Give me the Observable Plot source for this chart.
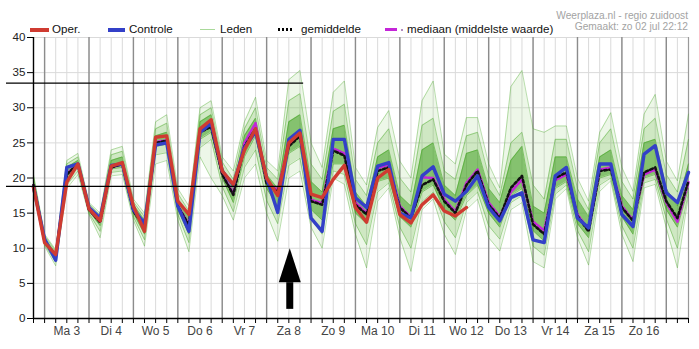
<!DOCTYPE html>
<html><head><meta charset="utf-8">
<script src="https://cdn.jsdelivr.net/npm/d3@7"></script>
<script src="https://cdn.jsdelivr.net/npm/@observablehq/plot@0.6"></script>
<style>
body{margin:0;background:#fff;}
#wrap{position:relative;width:699px;height:349px;font-family:"Liberation Sans",Arial,sans-serif;}
#legend{position:absolute;left:0;top:0;width:699px;height:37px;}
.t{position:absolute;top:22.3px;font-size:11.6px;line-height:14px;color:#111;white-space:nowrap;}
.sw{position:absolute;}
.cr{position:absolute;right:11px;font-size:10.2px;line-height:10.5px;color:#a3a3a3;white-space:nowrap;text-align:right;}
</style></head>
<body>
<div id="wrap">
<div id="chart"></div>
<div id="legend">
  <div class="sw" style="left:30px;top:28px;width:19px;height:3.5px;background:#cf3b31"></div>
  <div class="t" style="left:52px">Oper.</div>
  <div class="sw" style="left:108px;top:28px;width:17px;height:3.5px;background:#3340c8"></div>
  <div class="t" style="left:129px">Controle</div>
  <div class="sw" style="left:200px;top:29px;width:15px;height:1px;background:#a9d99a"></div>
  <div class="t" style="left:220px">Leden</div>
  <div class="sw" style="left:278px;top:28px;width:15px;height:3px;background:repeating-linear-gradient(90deg,#000 0 2.5px,transparent 2.5px 4px)"></div>
  <div class="t" style="left:301px">gemiddelde</div>
  <div class="sw" style="left:385px;top:28px;width:12px;height:3px;background:#c425d8"></div>
  <div class="sw" style="left:401px;top:29px;width:2px;height:2px;background:#b48cc0"></div>
  <div class="t" style="left:407px">mediaan (middelste waarde)</div>
  <div class="cr" style="top:11px">Weerplaza.nl - regio zuidoost</div>
  <div class="cr" style="top:22px">Gemaakt: zo 02 jul 22:12</div>
</div>
</div>
<script>
// ---- data (6-hourly, starting Sun 2 Jul 18:00) ----
const dayLabels = ["Ma 3","Di 4","Wo 5","Do 6","Vr 7","Za 8","Zo 9","Ma 10","Di 11","Wo 12","Do 13","Vr 14","Za 15","Zo 16"];
const yTicks = [0,5,10,15,20,25,30,35,40];

const oper = [18.7,10.8,9.1,19.4,22,15.6,13.9,21.7,22.2,16,12.4,25.8,26,16.7,14.8,27,28.3,21,19.1,24,27,20,17.5,25,26.4,17.7,17.2,19.8,21.8,15.8,13.7,20,21.2,14.8,13.6,16.2,17.6,15.3,14.6,15.8];

const controle = [18.7,11.3,8.3,21.5,22,15.8,14.3,21.8,22,15.5,13.5,24.7,25,16,12.4,26.5,27.8,21,19,24.3,26.6,20,15.1,25.5,26.8,14.3,12.4,25.5,25.5,17.2,15.8,21.7,22.2,15,14.3,20.3,21.6,17.7,16.7,18.1,20.3,15.8,13.9,17.2,17.9,11.2,10.8,20.3,21.5,14.3,12.9,22,22,14.8,13.1,23.4,24.6,17.9,16.5,20.8];

const gemiddelde = [19,11,8.8,20.5,22,15.5,13.7,21.5,22,15.3,13,25,25.3,16,13.3,26.5,27.3,20.5,17.6,24.5,27,19.2,18,24.5,26,16.7,16.2,23.9,23.2,16.2,14.8,21,21.5,15.8,14.3,19,19.8,16.7,15,19,21,16.2,14.3,18.6,20.3,13.4,12,20,20.8,14.6,12.4,21,21.2,15.8,13.9,20.8,21.5,16.7,14.3,19.6];

const mediaan = [19,11,8.9,20.6,22,15.5,13.8,21.5,22,15.4,13.1,25.1,25.4,16,13.4,26.6,27.5,20.6,17.8,25,27.8,19.4,18.3,24.8,26.2,16.9,16.4,24.2,23.5,16.5,15,21.4,21.9,16,14.4,20.1,20,17,15.2,19.3,21.2,16.5,14.5,18,19.8,13.8,12.5,19.7,20.5,14.8,12.6,21.2,21.5,16,14,20.5,21.2,16.5,13.8,19.4];

// ensemble members (Leden): outer, second and core tiers
const ledenMax = [20.5,12,9.8,22.5,23.5,16.5,15,24,24.5,17,15,28,29,18.5,16,30,31,23,21,28,31.5,22.5,21,34,35.3,25,21.5,32.2,33.8,21.5,19,27.2,29.6,22.4,20,31,33.8,23.4,22,28.6,28.6,22,18.6,33,35.3,27,26.5,27.4,27.4,20,16.7,26.5,29.3,21.5,18.1,29.1,31.9,22.4,19.6,29.1];
const ledenUp = [20.2,11.8,9.6,22,23,16.3,14.7,23.3,23.8,16.6,14.5,27,27.8,17.8,15.3,29,30,22.3,19.8,27,30,21.5,19.8,31,32,22,19.8,29.5,30.5,19.8,17.5,25,27,20,18,27.5,28.5,21,19.8,26,26.5,20.3,17.5,25,26.5,19,17,25.5,25.5,18.5,15.5,25,27,19.5,17,27,28.5,20.5,18,25.5];
const ledenHi = [20,11.5,9.3,21.5,22.5,16,14.3,22.5,23,16.2,14,26,26.5,17,14.5,28,29,21.5,18.5,26,28.5,20.5,18.5,28,29,19.5,18,27,27.5,18,16,23,24,17.5,16,24,25,19,17.5,23.5,24,18.5,16.5,22.5,24.5,16,15,23,23,17,14.5,23,24,17.5,15.5,25,25.5,18.5,16,22];
const ledenLo = [19,10.8,8.5,19.8,21.5,15.3,13.2,21.3,21.5,15,12,24.5,24.8,15.5,12,25.5,26.5,20,16.5,23,26,18.5,16,23.5,24.5,15.5,14,22,22,15,13.5,19.5,20,14.5,13,18,19,15.5,14,17.5,19,15,13,17.5,18.5,12.5,11,18.5,19.5,13.5,11.5,20,20.5,14.5,12,20,20.5,15.5,13,18.5];
const ledenDown = [18.7,10.5,8,19,21,15,12.4,20.8,21,14.5,11.2,23.3,23.6,14.8,10.8,24.3,25.5,18.8,15.2,21.5,24,16.8,13.5,21.8,22.8,14.2,12,21,20.5,13.5,10.5,18,19.3,13,10,16.7,18,13.8,11.5,16.5,18,13.2,11.3,16.5,17.5,10.3,9,17.7,19,12.5,9.5,19,20,13.2,10,19.3,19.8,14.2,10,18];
const ledenMin = [18.5,10.3,7.5,18.5,20.5,14.8,11.5,20.3,20.5,14,10.3,22,22.5,14,9.5,23,20,17.5,14,20,22,15,11,20,21,13,10,20,19.1,12,7.2,16.7,18.6,11.5,6.7,15.5,17,12,9.1,15.5,17,11.5,9.6,15.5,16.5,8.1,7.2,17,18.5,11.5,7.6,18.1,19.6,12,8.1,18.6,19.1,12.9,7.2,17.6];

// annotations
const refLevels = [33.5, 18.8];
const arrowBase = 1.3, arrowHeadBase = 5.1, arrowTip = 10;

// ---- time axis ----
const H6 = 6 * 3600 * 1000;
const t0 = Date.UTC(2023, 6, 2, 18);
const times = d3.range(controle.length).map(i => new Date(t0 + i * H6));
const tEnd = times[times.length - 1];
const sixHours = times.slice();
const midnights = times.filter(d => d.getUTCHours() === 0);
const noons = dayLabels.map((_, k) => new Date(Date.UTC(2023, 6, 3 + k, 12)));
const labelByTime = new Map(noons.map((d, k) => [+d, dayLabels[k]]));
const refStart = new Date(t0 - 14.6 * 3600 * 1000);
const refEnd = new Date(Date.UTC(2023, 6, 8, 20));
const arrowTime = new Date(Date.UTC(2023, 6, 8, 12, 30));

const series = arr => arr.map((v, i) => ({t: times[i], v}));
const leden = times.map((t, i) => ({t, max: ledenMax[i], up: ledenUp[i], hi: ledenHi[i], lo: ledenLo[i], down: ledenDown[i], min: ledenMin[i]}));
const refData = refLevels.map(y => ({y, x1: refStart, x2: refEnd}));
const arrowData = [{t: arrowTime, base: arrowBase, hb: arrowHeadBase, tip: arrowTip}];

const headSymbol = {draw(ctx) { ctx.moveTo(0, 0); ctx.lineTo(11, 34); ctx.lineTo(-11, 34); ctx.closePath(); }};

const green = "#4aa82a";
const memberLine = (key, op) => Plot.lineY(leden, {x: "t", y: key, stroke: green, strokeOpacity: op, strokeWidth: 1});
const plot = Plot.plot({
  width: 699, height: 349,
  marginLeft: 33, marginRight: 11, marginTop: 37, marginBottom: 31,
  style: {fontFamily: "Liberation Sans, Arial, sans-serif", fontSize: "12px", color: "#333", background: "transparent"},
  x: {type: "utc", domain: [times[0], tEnd]},
  y: {domain: [0, 40]},
  marks: [
    Plot.ruleY(yTicks, {stroke: "#dadada", strokeWidth: 1}),
    Plot.ruleX(sixHours, {stroke: "#dadada", strokeWidth: 1}),
    Plot.ruleX(midnights, {stroke: "#8c8c8c", strokeWidth: 1.4}),
    Plot.ruleX([tEnd], {stroke: "#9a9a9a", strokeWidth: 1.2}),
    Plot.areaY(leden, {x: "t", y1: "min", y2: "max", fill: "#8fcf72", fillOpacity: 0.16}),
    Plot.areaY(leden, {x: "t", y1: "down", y2: "up", fill: "#62b840", fillOpacity: 0.22}),
    Plot.areaY(leden, {x: "t", y1: "lo", y2: "hi", fill: "#3c9c1c", fillOpacity: 0.5}),
    memberLine("max", 0.38),
    memberLine("min", 0.38),
    memberLine("up", 0.45),
    memberLine("down", 0.45),
    memberLine("hi", 0.6),
    memberLine("lo", 0.6),
    Plot.lineY(series(mediaan), {x: "t", y: "v", stroke: "#c425d8", strokeWidth: 2.6, strokeDasharray: "6,2"}),
    Plot.lineY(series(gemiddelde), {x: "t", y: "v", stroke: "#111", strokeWidth: 2.6, strokeDasharray: "2.5,2.5"}),
    Plot.lineY(series(controle), {x: "t", y: "v", stroke: "#3340c8", strokeWidth: 3.4}),
    Plot.lineY(series(oper), {x: "t", y: "v", stroke: "#cf3b31", strokeWidth: 3.4}),
    Plot.ruleY(refData, {y: "y", x1: "x1", x2: "x2", stroke: "#000", strokeWidth: 1.2}),
    Plot.ruleX(arrowData, {x: "t", y1: "base", y2: "hb", stroke: "#000", strokeWidth: 7}),
    Plot.dot(arrowData, {x: "t", y: "tip", r: 10, symbol: headSymbol, fill: "#000", stroke: "none"}),
    Plot.ruleY([0], {stroke: "#000", strokeWidth: 1.6}),
    Plot.ruleX([times[0]], {stroke: "#000", strokeWidth: 1.4}),
    Plot.axisY({ticks: yTicks, tickSize: 6, tickPadding: 2, fontSize: 11.6, stroke: "#000", fill: "#222", label: null}),
    Plot.axisX({ticks: sixHours, tickSize: 5, tickFormat: () => "", stroke: "#000", label: null}),
    Plot.axisX({ticks: noons, tickSize: 0, tickPadding: 8, tickFormat: d => labelByTime.get(+d), fontSize: 12, fill: "#444", label: null})
  ]
});
document.getElementById("chart").appendChild(plot);
</script>
</body></html>
